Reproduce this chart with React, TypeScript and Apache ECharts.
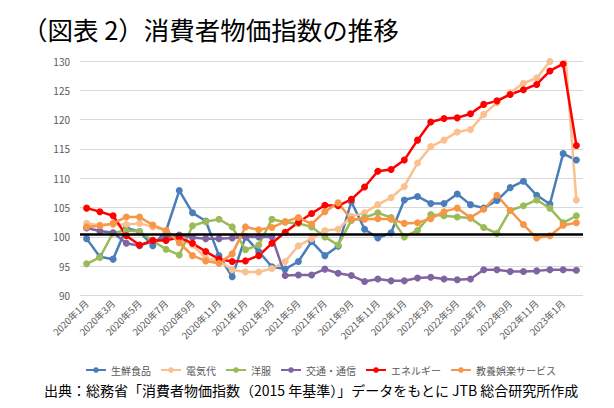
import React, { useEffect, useRef } from "react";
import * as echarts from "echarts";

const months: string[] = [
  "2020年1月","2020年2月","2020年3月","2020年4月","2020年5月","2020年6月","2020年7月","2020年8月","2020年9月","2020年10月","2020年11月","2020年12月",
  "2021年1月","2021年2月","2021年3月","2021年4月","2021年5月","2021年6月","2021年7月","2021年8月","2021年9月","2021年10月","2021年11月","2021年12月",
  "2022年1月","2022年2月","2022年3月","2022年4月","2022年5月","2022年6月","2022年7月","2022年8月","2022年9月","2022年10月","2022年11月","2022年12月",
  "2023年1月","2023年2月",
];

const freshFood = [99.7,96.6,96.2,101.5,100.9,98.5,101.0,107.9,104.1,102.7,96.8,93.2,100.0,97.5,94.9,94.5,95.8,99.2,96.8,98.4,106.0,101.3,99.8,100.7,106.3,106.9,105.7,105.7,107.3,105.5,104.9,106.2,108.4,109.5,107.1,105.6,114.2,113.1];
const electricity = [102.3,102.0,102.1,102.1,102.3,101.7,101.1,99.6,98.6,96.4,95.9,94.4,94.0,94.0,94.6,95.8,98.5,99.7,101.1,101.3,103.5,104.1,105.5,106.7,108.6,112.6,115.4,116.5,117.9,118.3,120.9,122.9,124.6,126.2,127.1,129.9,136.0,106.3];
const clothes = [95.4,96.5,100.7,101.1,100.9,99.3,97.9,96.9,101.9,102.6,103.0,101.7,97.8,98.6,103.0,102.5,102.3,101.7,100.0,98.6,102.8,103.3,104.1,103.3,100.0,101.1,103.8,103.6,103.4,103.2,101.6,100.6,104.5,105.3,106.3,104.9,102.4,103.6];
const transport = [101.5,101.0,100.7,98.9,98.5,99.2,99.9,100.3,99.9,99.7,99.7,99.8,100.0,100.0,100.0,93.4,93.5,93.5,94.5,93.8,93.4,92.4,92.8,92.5,92.5,93.0,93.1,92.8,92.7,92.8,94.4,94.4,94.1,94.1,94.2,94.4,94.4,94.3];
const energy = [104.9,104.3,103.6,100.2,98.6,99.4,99.4,99.9,98.9,97.5,96.2,95.8,95.9,96.8,98.9,100.8,102.5,104.0,105.4,105.3,106.4,108.5,111.2,111.5,113.1,116.5,119.6,120.2,120.3,121.0,122.6,123.2,124.3,125.1,126.0,128.3,129.5,115.6];
const culture = [101.7,101.9,102.3,103.4,103.4,102.0,101.1,99.0,96.8,95.9,95.5,97.1,101.7,101.2,101.6,102.6,103.3,102.2,104.3,105.8,103.0,103.0,103.1,103.0,102.3,102.4,103.1,104.3,104.9,103.3,104.7,107.1,104.5,102.1,99.8,100.2,102.0,102.4];

const seriesNames = ["生鮮食品", "電気代", "洋服", "交通・通信", "エネルギー", "教養娯楽サービス"];
const seriesData = [freshFood, electricity, clothes, transport, energy, culture];
const seriesColors = ["#4A7EBB", "#FAC090", "#9BBB59", "#8064A2", "#FF0000", "#F79646"];
const referenceLevel = 100.5;

const titleText = "（図表 2）消費者物価指数の推移";
const sourceText = "出典：総務省「消費者物価指数（2015 年基準）」データをもとに JTB 総合研究所作成";

const FONT = '"Noto Sans CJK JP", "Noto Sans", sans-serif';

export default function App() {
  const ref = useRef<HTMLDivElement>(null);
  useEffect(() => {
    if (!ref.current) return;
    const chart = echarts.init(ref.current, null, { renderer: "svg" });
    const series: any[] = seriesNames.map((name, k) => ({
      name,
      type: "line",
      data: seriesData[k],
      symbol: "circle",
      symbolSize: 7,
      lineStyle: { width: 2.5, color: seriesColors[k] },
      itemStyle: { color: seriesColors[k] },
      clip: true,
    }));
    series[series.length - 1].markLine = {
      silent: true,
      symbol: ["none", "none"],
      label: { show: false },
      lineStyle: { color: "#000000", width: 2.5, type: "solid" },
      data: [{ yAxis: referenceLevel }],
    };
    chart.setOption({
      animation: false,
      textStyle: { fontFamily: FONT },
      title: {
        text: titleText,
        left: 22,
        top: 16,
        padding: 0,
        textStyle: { fontFamily: FONT, fontSize: 25.5, fontWeight: "normal", color: "#000" },
      },
      graphic: [
        {
          type: "text",
          left: 44,
          top: 383,
          style: { text: sourceText, font: `14px ${FONT}`, fill: "#000" },
        },
      ],
      legend: {
        data: seriesNames,
        top: 360,
        left: 80,
        itemWidth: 20,
        itemHeight: 7,
        itemGap: 9,
        textStyle: { fontFamily: FONT, fontSize: 10, color: "#595959" },
      },
      grid: { left: 80, right: 31, top: 61, bottom: 112.5, containLabel: false },
      xAxis: {
        type: "category",
        data: months,
        boundaryGap: true,
        axisLine: { show: false },
        axisTick: { show: false },
        axisLabel: {
          interval: 1,
          rotate: 45,
          fontSize: 9.5,
          color: "#595959",
          margin: 6,
          fontFamily: FONT,
        },
      },
      yAxis: {
        type: "value",
        min: 90,
        max: 130,
        interval: 5,
        axisLine: { show: false },
        axisTick: { show: false },
        axisLabel: { fontSize: 10, color: "#595959", margin: 10, fontFamily: FONT },
        splitLine: { lineStyle: { color: "#D9D9D9", width: 1 } },
      },
      series,
    });
    return () => chart.dispose();
  }, []);
  return <div ref={ref} style={{ width: 614, height: 408, margin: -8 }} />;
}
